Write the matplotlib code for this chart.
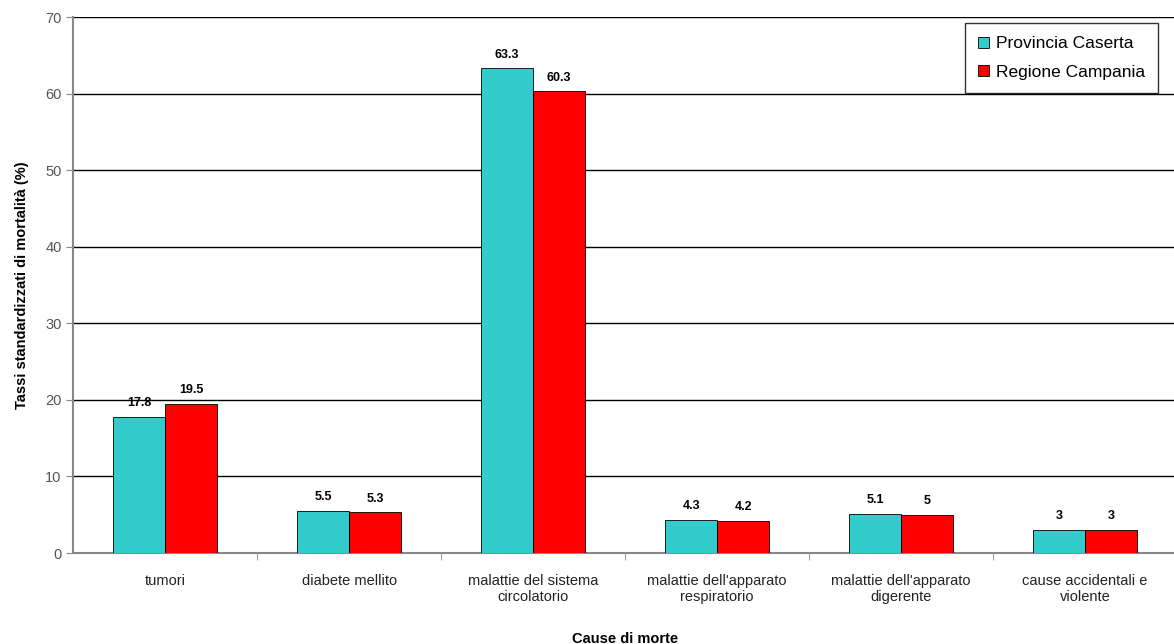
import matplotlib.pyplot as plt
import numpy as np

plt.rcParams['font.family'] = ['Liberation Sans', 'DejaVu Sans']

# Tassi standardizzati di mortalità per causa
categories = ["tumori", "diabete mellito", "malattie del sistema\ncircolatorio",
              "malattie dell'apparato\nrespiratorio", "malattie dell'apparato\ndigerente",
              "cause accidentali e\nviolente"]
caserta = [17.8, 5.5, 63.3, 4.3, 5.1, 3]
campania = [19.5, 5.3, 60.3, 4.2, 5, 3]
caserta_labels = ["17.8", "5.5", "63.3", "4.3", "5.1", "3"]
campania_labels = ["19.5", "5.3", "60.3", "4.2", "5", "3"]

fig = plt.figure(figsize=(11.74, 6.44), dpi=100)
ax = fig.add_axes([0.0625, 0.1413, 0.94, 0.832])

x = np.arange(len(categories))
w = 0.283
b1 = ax.bar(x - w / 2, caserta, w, color='#33CCCC', edgecolor='black', linewidth=0.6,
            label='Provincia Caserta', zorder=3)
b2 = ax.bar(x + w / 2, campania, w, color='#FF0000', edgecolor='black', linewidth=0.6,
            label='Regione Campania', zorder=3)

for bars, labs in ((b1, caserta_labels), (b2, campania_labels)):
    for rect, lab in zip(bars, labs):
        ax.text(rect.get_x() + rect.get_width() / 2, rect.get_height() + 1.0, lab,
                ha='center', va='bottom', fontsize=9, fontweight='bold')

ax.set_ylim(0, 70)
ax.set_xlim(-0.5, len(categories) - 0.5)
ax.set_yticks(range(0, 71, 10))
ax.yaxis.grid(True, color='black', linewidth=1.0, zorder=0)
ax.set_axisbelow(True)

ax.set_xticks(x)
ax.set_xticklabels(categories, fontsize=10.5, color='#222222')
ax.set_xticks(np.arange(0.5, len(categories) - 0.5, 1), minor=True)
ax.tick_params(axis='x', which='major', length=0, pad=15)
ax.tick_params(axis='x', which='minor', length=5, color='#888888')
ax.tick_params(axis='y', length=5, color='#888888', labelsize=10.5, labelcolor='#555555')

for s in ('top', 'right'):
    ax.spines[s].set_visible(False)
for s in ('left', 'bottom'):
    ax.spines[s].set_color('#888888')
    ax.spines[s].set_linewidth(1.5)

ax.set_ylabel('Tassi standardizzati di mortalità (%)', fontsize=10.5, fontweight='bold', labelpad=12)
ax.set_xlabel('Cause di morte', fontsize=10.5, fontweight='bold', labelpad=20)

leg = ax.legend(loc='upper right', bbox_to_anchor=(0.988, 0.998), fontsize=12.5, frameon=True,
                fancybox=False, edgecolor='black', handlelength=0.6, handleheight=0.6,
                handletextpad=0.45, borderpad=0.75, labelspacing=0.75, borderaxespad=0.3)
leg.get_frame().set_linewidth(1.0)

fig.savefig('out.png', dpi=100)
plt.close(fig)
